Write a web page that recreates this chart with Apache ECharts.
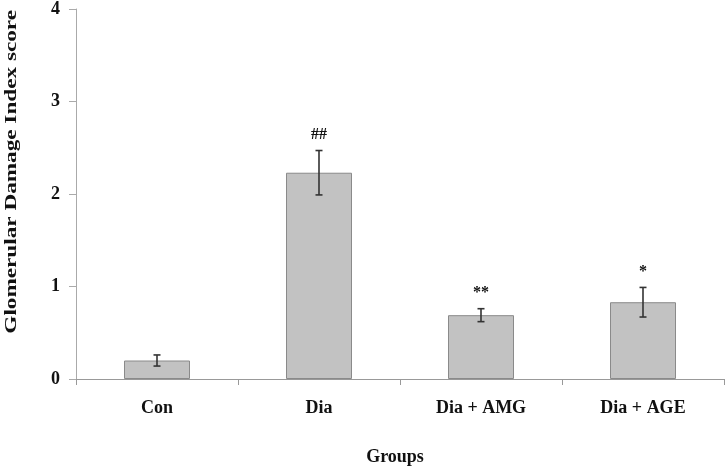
<!DOCTYPE html>
<html>
<head>
<meta charset="utf-8">
<script src="https://cdn.jsdelivr.net/npm/echarts@6/dist/echarts.min.js"></script>
<style>
  html, body { margin: 0; padding: 0; background: #fff; }
  #chart { width: 726px; height: 471px; }
</style>
</head>
<body>
<div id="chart"></div>
<script>
// values
var groups = ['Con', 'Dia', 'Dia + AMG', 'Dia + AGE'];
var scores = [0.20, 2.23, 0.69, 0.83];
var errors = [0.06, 0.24, 0.07, 0.16];
var marks = ['', '##', '**', '*'];
var yTicks = [0, 1, 2, 3, 4];

var font = 'Liberation Serif';
var chart = echarts.init(document.getElementById('chart'));

var errData = groups.map(function (g, i) {
  return [i, scores[i] - errors[i], scores[i] + errors[i], marks[i]];
});

var option = {
  animation: false,
  grid: { left: 76, right: 2, top: 7, bottom: 89 },
  xAxis: {
    type: 'category',
    data: groups,
    name: 'Groups',
    nameLocation: 'middle',
    nameGap: 69,
    nameTextStyle: { fontFamily: font, fontWeight: 'bold', fontSize: 18, color: '#111', padding: [0, 10, 0, 0] },
    axisLine: { lineStyle: { color: '#999', width: 1 } },
    axisTick: { show: true, length: 6, lineStyle: { color: '#999' } },
    axisLabel: { fontFamily: font, fontWeight: 'bold', fontSize: 18, color: '#111', margin: 20 }
  },
  yAxis: {
    type: 'value',
    min: yTicks[0],
    max: yTicks[yTicks.length - 1],
    interval: 1,
    splitLine: { show: false },
    axisLine: { show: true, lineStyle: { color: '#aaa', width: 1 } },
    axisTick: { show: true, length: 7, lineStyle: { color: '#aaa' } },
    axisLabel: { fontFamily: font, fontWeight: 'bold', fontSize: 18, color: '#111', margin: 16 }
  },
  graphic: [{
    type: 'text',
    left: 4,
    top: 10,
    rotation: Math.PI / 2,
    scaleX: 1.45,
    style: {
      text: 'Glomerular Damage Index score',
      font: 'bold 16px "' + font + '"',
      fill: '#111'
    }
  }],
  series: [{
    type: 'bar',
    data: scores,
    barWidth: 66,
    itemStyle: { color: '#c2c2c2', borderColor: '#8a8a8a', borderWidth: 1 }
  }, {
    type: 'custom',
    data: errData,
    z: 5,
    renderItem: function (params, api) {
      var x = api.value(0);
      var lo = api.coord([x, api.value(1)]);
      var hi = api.coord([x, api.value(2)]);
      var cap = 3.5;
      var st = { stroke: '#333', lineWidth: 1.6 };
      var kids = [
        { type: 'line', shape: { x1: lo[0], y1: lo[1], x2: hi[0], y2: hi[1] }, style: st },
        { type: 'line', shape: { x1: lo[0] - cap, y1: lo[1], x2: lo[0] + cap, y2: lo[1] }, style: st },
        { type: 'line', shape: { x1: hi[0] - cap, y1: hi[1], x2: hi[0] + cap, y2: hi[1] }, style: st }
      ];
      var m = marks[params.dataIndex];
      if (m) {
        kids.push({
          type: 'text',
          x: hi[0],
          y: hi[1] - 8,
          style: {
            text: m,
            font: 'bold 16px "' + font + '"',
            fill: '#111',
            align: 'center',
            verticalAlign: 'bottom'
          }
        });
      }
      return { type: 'group', children: kids };
    }
  }]
};

chart.setOption(option);
</script>
</body>
</html>
